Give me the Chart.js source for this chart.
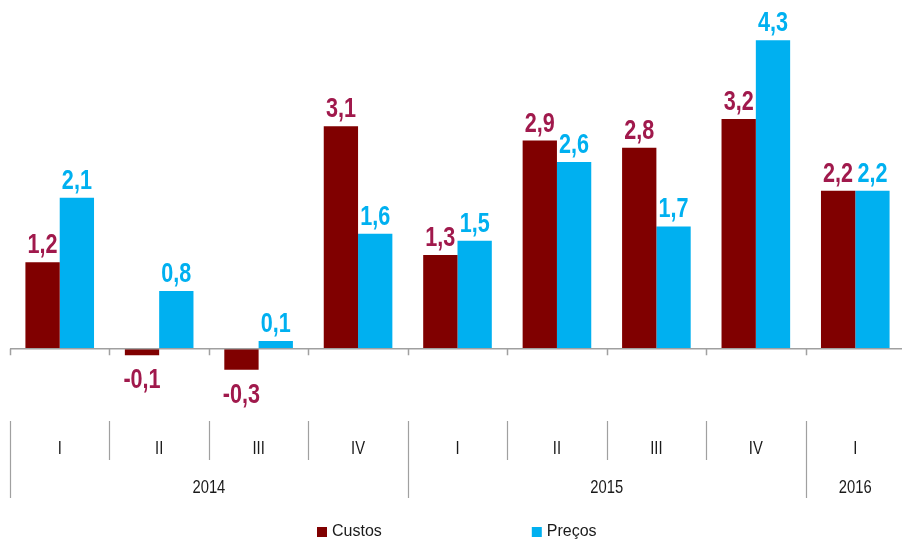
<!DOCTYPE html>
<html>
<head>
<meta charset="utf-8">
<script src="https://cdn.jsdelivr.net/npm/chart.js@4.4.1/dist/chart.umd.min.js"></script>
<style>
    html, body { margin: 0; padding: 0; background: #fff; overflow: hidden; }
    #wrap { width: 906px; height: 540px; }
</style>
</head>
<body>
<div id="wrap"><canvas id="chart"></canvas></div>
<script>
const quarters = ["I", "II", "III", "IV", "I", "II", "III", "IV", "I"];
const quarterYears = ["2014", "2014", "2014", "2014", "2015", "2015", "2015", "2015", "2016"];
const seriesNames = ["Custos", "Preços"];
const custos = [1.2, -0.1, -0.3, 3.1, 1.3, 2.9, 2.8, 3.2, 2.2];
const precos = [2.1, 0.8, 0.1, 1.6, 1.5, 2.6, 1.7, 4.3, 2.2];

const barColors = ["#800000", "#00B0F0"];
const labelColors = ["#A0194C", "#00B0F0"];
const sans = "'Liberation Sans', Arial, sans-serif";

function fmt(v) {
    return v.toFixed(1).replace(".", ",");
}

// squeeze text horizontally to imitate a condensed face
function narrowText(ctx, text, x, y, squeeze) {
    const w = ctx.measureText(text).width;
    ctx.fillText(text, x, y, w * squeeze);
}

// value labels, zero line and the two-level category axis
const decorations = {
    id: "decorations",
    afterDatasetsDraw(chart) {
        const ctx = chart.ctx;
        const area = chart.chartArea;
        const x = chart.scales.x;
        const y = chart.scales.y;
        const n = quarters.length;
        const step = (area.right - area.left) / n;
        const zero = y.getPixelForValue(0);

        ctx.save();

        // value labels
        ctx.font = "bold 27px " + sans;
        ctx.textAlign = "center";
        ctx.textBaseline = "alphabetic";
        chart.data.datasets.forEach((ds, di) => {
            chart.getDatasetMeta(di).data.forEach((bar, i) => {
                const v = ds.data[i];
                ctx.fillStyle = labelColors[di];
                if (v >= 0) narrowText(ctx, fmt(v), bar.x, bar.y - 9, 0.8);
                else narrowText(ctx, fmt(v), bar.x, bar.y + 33, 0.8);
            });
        });

        // zero line with ticks
        ctx.strokeStyle = "#A0A0A0";
        ctx.lineWidth = 1.5;
        ctx.beginPath();
        ctx.moveTo(area.left, zero + 0.5);
        ctx.lineTo(area.right, zero + 0.5);
        for (let i = 0; i <= n; i++) {
            const bx = Math.round(area.left + i * step) + 0.5;
            ctx.moveTo(bx, zero + 0.5);
            ctx.lineTo(bx, zero + 7);
        }
        ctx.stroke();

        // separators
        ctx.lineWidth = 1.2;
        ctx.beginPath();
        for (let i = 0; i <= n; i++) {
            const bx = Math.round(area.left + i * step) + 0.5;
            const yearEdge = i === 0 || i === n || quarterYears[i] !== quarterYears[i - 1];
            ctx.moveTo(bx, 421);
            ctx.lineTo(bx, yearEdge ? 498 : 460);
        }
        ctx.stroke();

        // quarter labels
        ctx.fillStyle = "#1A1A1A";
        ctx.font = "18px " + sans;
        quarters.forEach((q, i) => {
            narrowText(ctx, q, x.getPixelForValue(i), 454, 0.82);
        });

        // year labels, centered over their quarters
        let start = 0;
        for (let i = 1; i <= n; i++) {
            if (i === n || quarterYears[i] !== quarterYears[start]) {
                const cx = (x.getPixelForValue(start) + x.getPixelForValue(i - 1)) / 2;
                narrowText(ctx, quarterYears[start], cx, 493, 0.82);
                start = i;
            }
        }

        // legend
        ctx.font = "16px " + sans;
        ctx.textAlign = "left";
        ctx.textBaseline = "middle";
        let lx = 317;
        seriesNames.forEach((name, i) => {
            ctx.fillStyle = barColors[i];
            ctx.fillRect(lx, 527, 10, 10);
            ctx.fillStyle = "#1A1A1A";
            ctx.fillText(name, lx + 15, 532);
            lx += 15 + ctx.measureText(name).width + 150;
        });

        ctx.restore();
    }
};

new Chart(document.getElementById("chart"), {
    type: "bar",
    data: {
        labels: quarters,
        datasets: [
            { label: seriesNames[0], data: custos, backgroundColor: barColors[0] },
            { label: seriesNames[1], data: precos, backgroundColor: barColors[1] }
        ]
    },
    options: {
        responsive: true,
        maintainAspectRatio: false,
        animation: false,
        layout: { padding: { top: 26, bottom: 156, left: 10, right: 1 } },
        datasets: { bar: { categoryPercentage: 0.69, barPercentage: 1.0 } },
        scales: {
            x: { display: false },
            y: { display: false, min: -0.5, max: 4.5 }
        },
        plugins: {
            legend: { display: false },
            tooltip: { enabled: false }
        }
    },
    plugins: [decorations]
});
</script>
</body>
</html>
